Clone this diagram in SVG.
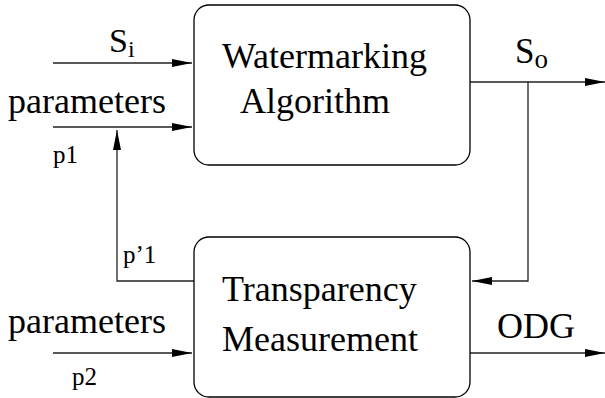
<svg xmlns="http://www.w3.org/2000/svg" width="605" height="398" viewBox="0 0 605 398">
<style>
.box{fill:#fff;stroke:#000;stroke-width:1.3}
.ln{fill:none;stroke:#222;stroke-width:1.3}
.big{font-family:"Liberation Serif","Times New Roman",serif;font-size:36px;fill:#000}
.sm{font-family:"Liberation Serif","Times New Roman",serif;font-size:25px;fill:#000}
</style>
<defs>
<marker id="ah" viewBox="0 0 20 10" refX="20" refY="5" markerWidth="20" markerHeight="10" markerUnits="userSpaceOnUse" orient="auto">
<path d="M0,1 L20,5 L0,9 z" fill="#000"/>
</marker>
</defs>
<rect width="605" height="398" fill="#fff"/>
<g id="connectors">
<line class="ln" x1="53" y1="63" x2="192" y2="63" marker-end="url(#ah)"/>
<line class="ln" x1="53" y1="127" x2="192" y2="127" marker-end="url(#ah)"/>
<polyline class="ln" points="194,281 117,281 117,130" marker-end="url(#ah)"/>
<line class="ln" x1="470" y1="82" x2="605" y2="82" marker-end="url(#ah)"/>
<polyline class="ln" points="528,82 528,281 472,281" marker-end="url(#ah)"/>
<line class="ln" x1="470" y1="353" x2="605" y2="353" marker-end="url(#ah)"/>
<line class="ln" x1="53" y1="353" x2="192" y2="353" marker-end="url(#ah)"/>
</g>
<g id="watermarking">
<rect class="box" x="194" y="5" width="276" height="160" rx="15" ry="15"/>
<text class="big" x="222" y="68">Watermarking</text>
<text class="big" x="240" y="113">Algorithm</text>
</g>
<g id="transparency">
<rect class="box" x="194" y="237" width="276" height="160" rx="15" ry="15"/>
<text class="big" x="222" y="301">Transparency</text>
<text class="big" x="222" y="351">Measurement</text>
</g>
<g id="labels">
<text class="big" x="109" y="52" style="font-size:34px">S<tspan dy="5" style="font-size:24px">i</tspan></text>
<text class="big" x="8" y="113">parameters</text>
<text class="sm" x="53" y="163">p1</text>
<text class="sm" x="123" y="263">p’1</text>
<text class="big" x="8" y="333">parameters</text>
<text class="sm" x="72" y="385">p2</text>
<text class="big" x="515" y="63" style="font-size:35px">S<tspan dy="5" style="font-size:27px">o</tspan></text>
<text class="big" x="497" y="338">ODG</text>
</g>
</svg>
